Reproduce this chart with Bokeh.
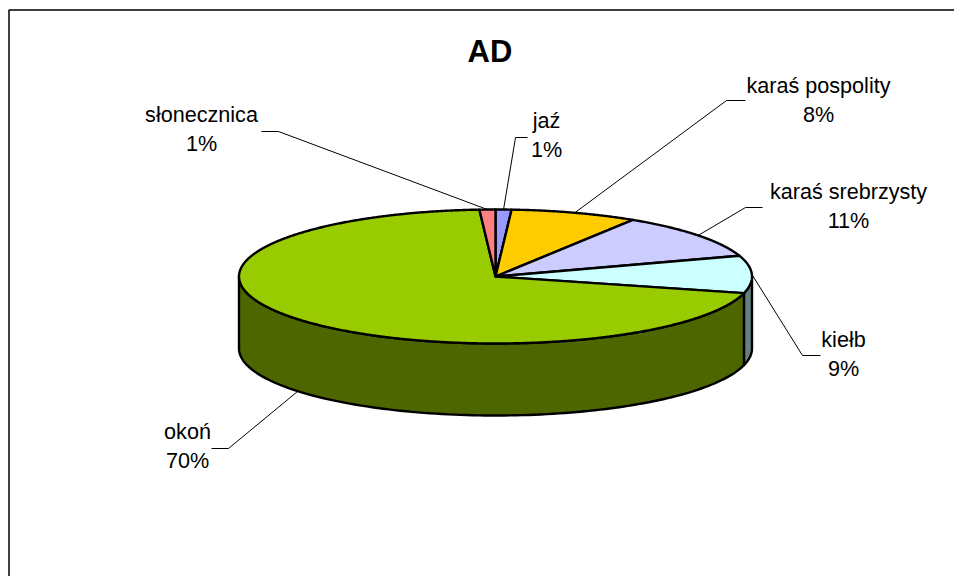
import numpy as np
from bokeh.plotting import figure
from bokeh.models import Range1d
from bokeh.core.properties import value
from bokeh.embed import file_html
from bokeh.resources import INLINE

# Catch composition of the AD site, clockwise from twelve o'clock
species = ["jaź", "karaś pospolity", "karaś srebrzysty", "kiełb", "okoń", "słonecznica"]
shares = [1, 8, 11, 9, 70, 1]
top_colors = ["#9999FF", "#FFCC00", "#CCCCFF", "#CCFFFF", "#99CC00", "#FF8080"]
side_colors = ["#4D4D80", "#806600", "#666680", "#668080", "#4D6600", "#804040"]

# Page-pixel layout of the tilted disc
CX, CY, RX, RY, DEPTH = 495.0, 276.0, 256.5, 67.0, 72.0
FONT = value("Liberation Sans")
LABEL_PX = "21.6px"

# Text anchor (centre x, first-line y) and leader elbow path for each species
label_xy = {
    "jaź": (546, 120),
    "karaś pospolity": (818, 85),
    "karaś srebrzysty": (848, 191),
    "kiełb": (843, 339),
    "okoń": (187, 431),
    "słonecznica": (201, 114),
}
leader_elbows = {
    "jaź": [(527, 137), (515, 137)],
    "karaś pospolity": [(745, 100), (726, 100)],
    "karaś srebrzysty": [(762, 207), (745, 207)],
    "kiełb": [(820, 355), (802, 355)],
    "okoń": [(211, 448), (228, 448)],
    "słonecznica": [(261, 131), (278, 131)],
}


def rim(angles, drop=0.0):
    """Ellipse points for clockwise angles in degrees, zero at the top."""
    a = np.radians(angles)
    return CX + RX * np.sin(a), CY - RY * np.cos(a) + drop


p = figure(
    width=954, height=576, output_backend="svg", toolbar_location=None,
    x_range=Range1d(0, 954), y_range=Range1d(576, 0),
    min_border=0, outline_line_color=None, background_fill_color="white",
    border_fill_color="white",
)
p.axis.visible = False
p.grid.visible = False

# Chart frame: only its left and top edges fall inside the page
p.line([8.5, 8.5, 954], [576, 9.5, 9.5], line_color="black", line_width=1.5)

edges = np.concatenate([[0], np.cumsum(shares)]) / sum(shares) * 360.0
starts, ends = edges[:-1], edges[1:]

# Visible wall of the disc: the front half of the rim only
for a0, a1, col in zip(starts, ends, side_colors):
    lo, hi = max(a0, 90.0), min(a1, 270.0)
    if hi <= lo:
        continue
    t = np.linspace(lo, hi, 120)
    xt, yt = rim(t)
    xb, yb = rim(t[::-1], DEPTH)
    p.patch(np.r_[xt, xb], np.r_[yt, yb], fill_color=col,
            line_color="black", line_width=2.4, line_join="round")

# Top face wedges
for a0, a1, col in zip(starts, ends, top_colors):
    t = np.linspace(a0, a1, max(int(a1 - a0) * 3, 12))
    xt, yt = rim(t)
    p.patch(np.r_[CX, xt], np.r_[CY, yt], fill_color=col,
            line_color="black", line_width=2.4, line_join="round")

# Leader lines and two-line labels
for name, share, a0, a1 in zip(species, shares, starts, ends):
    mid = (a0 + a1) / 2.0
    ax, ay = rim([mid], DEPTH if 120 < mid < 240 else 0.0)
    outer, elbow = leader_elbows[name]
    p.line([outer[0], elbow[0], ax[0]], [outer[1], elbow[1], ay[0]],
           line_color="black", line_width=1)
    lx, ly = label_xy[name]
    p.text([lx], [ly], text=[name], text_font=FONT, text_font_size=LABEL_PX,
           text_align="center", text_baseline="middle", text_color="black")
    p.text([lx], [ly + 29], text=[f"{share}%"], text_font=FONT, text_font_size=LABEL_PX,
           text_align="center", text_baseline="middle", text_color="black")

p.text([489.5], [51], text=["AD"], text_font=FONT, text_font_size="31px",
       text_font_style="bold", text_align="center", text_baseline="middle",
       text_color="black")

open("out.html", "w").write(file_html(p, INLINE))
